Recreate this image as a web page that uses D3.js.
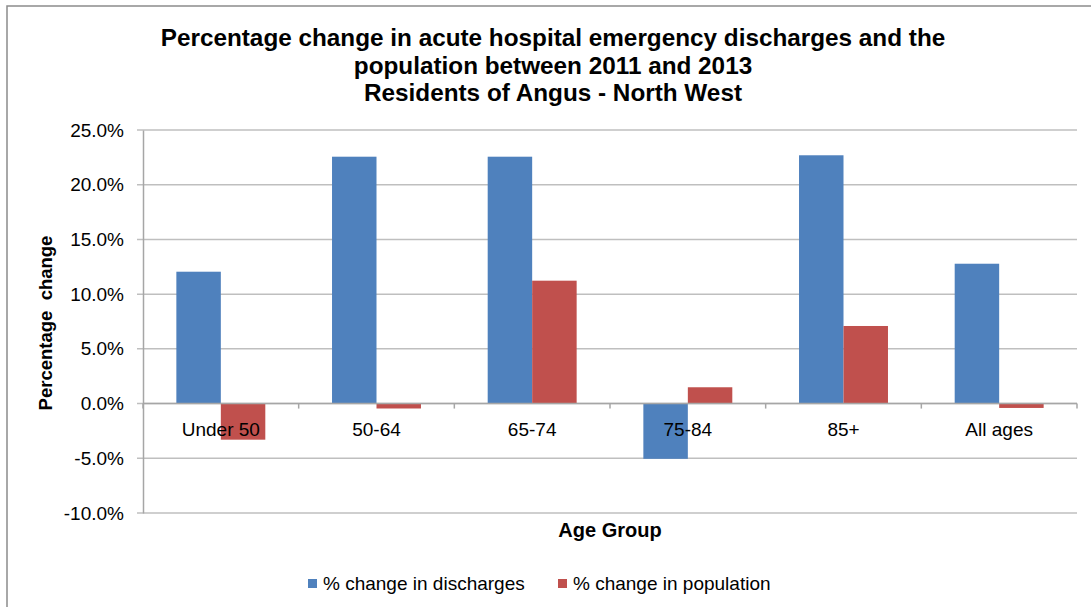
<!DOCTYPE html>
<html>
<head>
<meta charset="utf-8">
<script src="https://cdn.jsdelivr.net/npm/d3@7"></script>
<style>
  body { margin: 0; background: #fff; }
  svg { display: block; font-family: "Liberation Sans", Arial, sans-serif; }
</style>
</head>
<body>
<svg id="chart"></svg>
<script>
// data
const categories = ["Under 50", "50-64", "65-74", "75-84", "85+", "All ages"];
const seriesNames = ["% change in discharges", "% change in population"];
const discharges = [12.05, 22.56, 22.56, -5.05, 22.69, 12.78];
const population = [-3.3, -0.45, 11.23, 1.49, 7.09, -0.4];
const yTicks = [-10, -5, 0, 5, 10, 15, 20, 25];
const titleLines = [
  "Percentage change in acute hospital emergency discharges and the",
  "population between 2011 and 2013",
  "Residents of Angus - North West"
];

const colors = ["#4f81bd", "#c0504d"];

const width = 1091, height = 607;
const margin = {top: 130, right: 14, bottom: 94, left: 143};

const svg = d3.select("#chart")
  .attr("width", width)
  .attr("height", height);

// outer chart frame (runs off the right/bottom edge)
svg.append("rect")
  .attr("x", 7).attr("y", 6)
  .attr("width", 1100).attr("height", 620)
  .attr("fill", "#fff")
  .attr("stroke", "#8c8c8c")
  .attr("stroke-width", 1.5);

//title
svg.append("g").selectAll("text")
  .data(titleLines)
  .join("text")
  .attr("x", 553)
  .attr("y", (d, i) => 46 + i * 27.5)
  .attr("text-anchor", "middle")
  .attr("font-weight", "bold")
  .attr("font-size", "24.3px")
  .attr("fill", "#000")
  .text(d => d);

//scales
const x0 = d3.scaleBand()
  .domain(categories)
  .range([margin.left, width - margin.right])
  .padding(0);

const x1 = d3.scaleBand()
  .domain(seriesNames)
  .range([0, x0.bandwidth()])
  .paddingInner(0)
  .paddingOuter(0.75);

const y = d3.scaleLinear()
  .domain([-10, 25])
  .range([height - margin.bottom, margin.top]);

//gridlines
svg.append("g")
  .selectAll("line")
  .data(yTicks)
  .join("line")
  .attr("x1", margin.left - 6)
  .attr("x2", width - margin.right)
  .attr("y1", d => y(d))
  .attr("y2", d => y(d))
  .attr("stroke", "#bfbfbf")
  .attr("stroke-width", 1.5);

//y axis
const yAxis = g => g
  .attr("transform", `translate(${margin.left},0)`)
  .call(d3.axisLeft(y)
    .tickValues(yTicks)
    .tickFormat(d => d.toFixed(1) + "%")
    .tickSize(0)
    .tickPadding(19))
  .call(g => g.select(".domain").attr("stroke", "#a6a6a6").attr("stroke-width", 1.5))
  .call(g => g.selectAll("text")
    .attr("font-size", "19px")
    .attr("font-family", "Liberation Sans, Arial, sans-serif")
    .attr("fill", "#000"));

svg.append("g").call(yAxis);

//bars
const rows = categories.map((c, i) => ({cat: c, vals: [discharges[i], population[i]]}));

svg.append("g")
  .selectAll("g")
  .data(rows)
  .join("g")
  .attr("transform", d => `translate(${x0(d.cat)},0)`)
  .selectAll("rect")
  .data(d => d.vals.map((v, j) => ({key: seriesNames[j], v, j})))
  .join("rect")
  .attr("x", d => x1(d.key))
  .attr("width", x1.bandwidth())
  .attr("y", d => y(Math.max(0, d.v)))
  .attr("height", d => Math.abs(y(d.v) - y(0)))
  .attr("fill", d => colors[d.j]);

//x axis on the zero line
const xAxis = g => g
  .attr("transform", `translate(0,${y(0)})`)
  .call(d3.axisBottom(x0).tickSize(0).tickPadding(19))
  .call(g => g.select(".domain").remove())
  .call(g => g.selectAll("text")
    .attr("font-size", "19px")
    .attr("font-family", "Liberation Sans, Arial, sans-serif")
    .attr("fill", "#000"));

const xg = svg.append("g").call(xAxis);

// boundary tick marks
xg.append("line")
  .attr("x1", margin.left).attr("x2", width - margin.right)
  .attr("y1", 0).attr("y2", 0)
  .attr("stroke", "#a6a6a6").attr("stroke-width", 1.5);
xg.selectAll(".btick")
  .data(d3.range(categories.length + 1))
  .join("line")
  .attr("class", "btick")
  .attr("x1", i => margin.left + i * x0.step())
  .attr("x2", i => margin.left + i * x0.step())
  .attr("y1", 0).attr("y2", 5)
  .attr("stroke", "#a6a6a6").attr("stroke-width", 1.5);
xg.raise();

//axis titles
svg.append("text")
  .attr("transform", "translate(52,323) rotate(-90)")
  .attr("text-anchor", "middle")
  .attr("font-weight", "bold")
  .attr("font-size", "18.5px")
  .style("white-space", "pre")
  .text("Percentage  change");

svg.append("text")
  .attr("x", (margin.left + width - margin.right) / 2)
  .attr("y", 537)
  .attr("text-anchor", "middle")
  .attr("font-weight", "bold")
  .attr("font-size", "20px")
  .text("Age Group");

//legend
const legendX = [308, 558];
const legend = svg.append("g")
  .selectAll("g")
  .data(seriesNames)
  .join("g")
  .attr("transform", (d, i) => `translate(${legendX[i]},579)`);

legend.append("rect")
  .attr("width", 9).attr("height", 9)
  .attr("fill", (d, i) => colors[i]);

legend.append("text")
  .attr("x", 15)
  .attr("y", 4.5)
  .attr("dy", "0.35em")
  .attr("font-size", "19px")
  .attr("fill", "#000")
  .text(d => d);
</script>
</body>
</html>
